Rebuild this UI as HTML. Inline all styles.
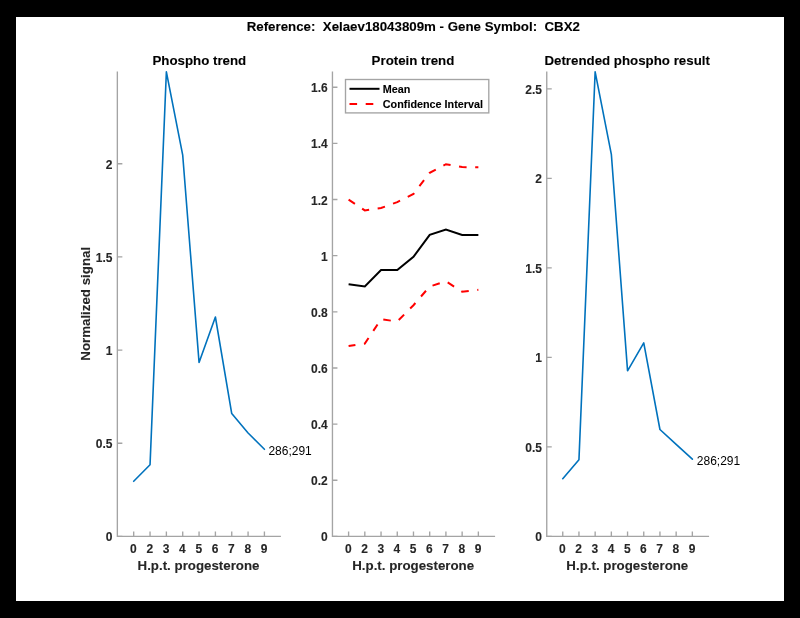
<!DOCTYPE html><html><head><meta charset="utf-8"><style>html,body{margin:0;padding:0;background:#000;overflow:hidden}svg{display:block;will-change:transform;filter:blur(0.3px)}</style></head><body>
<svg width="800" height="618" viewBox="0 0 800 618">
<rect x="0" y="0" width="800" height="618" fill="#000"/>
<rect x="16" y="17" width="768" height="584" fill="#fff"/>
<g font-family='"Liberation Sans", sans-serif'>
<text transform="translate(413.30,31.00) scale(1,1.000)" font-size="13.3" font-weight="bold" fill="#000" stroke="#000" stroke-width="0.1" text-anchor="middle" xml:space="preserve">Reference:  Xelaev18043809m - Gene Symbol:  CBX2</text>
<path d="M117.35 71.50 V536.40 H280.90" fill="none" stroke="#a4a4a4" stroke-width="1.35"/>
<path d="M133.70 536.40 v-5M150.04 536.40 v-5M166.38 536.40 v-5M182.72 536.40 v-5M199.06 536.40 v-5M215.40 536.40 v-5M231.74 536.40 v-5M248.08 536.40 v-5M264.42 536.40 v-5" stroke="#a4a4a4" stroke-width="1.35" fill="none"/>
<path d="M117.35 536.40 h5M117.35 443.24 h5M117.35 350.08 h5M117.35 256.92 h5M117.35 163.76 h5" stroke="#a4a4a4" stroke-width="1.35" fill="none"/>
<text transform="translate(112.55,541.40) scale(1,1.000)" font-size="12" font-weight="bold" fill="#262626" stroke="#262626" stroke-width="0.1" text-anchor="end" xml:space="preserve">0</text>
<text transform="translate(112.55,448.24) scale(1,1.000)" font-size="12" font-weight="bold" fill="#262626" stroke="#262626" stroke-width="0.1" text-anchor="end" xml:space="preserve">0.5</text>
<text transform="translate(112.55,355.08) scale(1,1.000)" font-size="12" font-weight="bold" fill="#262626" stroke="#262626" stroke-width="0.1" text-anchor="end" xml:space="preserve">1</text>
<text transform="translate(112.55,261.92) scale(1,1.000)" font-size="12" font-weight="bold" fill="#262626" stroke="#262626" stroke-width="0.1" text-anchor="end" xml:space="preserve">1.5</text>
<text transform="translate(112.55,168.76) scale(1,1.000)" font-size="12" font-weight="bold" fill="#262626" stroke="#262626" stroke-width="0.1" text-anchor="end" xml:space="preserve">2</text>
<text transform="translate(133.40,553.10) scale(1,1.000)" font-size="12" font-weight="bold" fill="#262626" stroke="#262626" stroke-width="0.1" text-anchor="middle" xml:space="preserve">0</text>
<text transform="translate(149.74,553.10) scale(1,1.000)" font-size="12" font-weight="bold" fill="#262626" stroke="#262626" stroke-width="0.1" text-anchor="middle" xml:space="preserve">2</text>
<text transform="translate(166.08,553.10) scale(1,1.000)" font-size="12" font-weight="bold" fill="#262626" stroke="#262626" stroke-width="0.1" text-anchor="middle" xml:space="preserve">3</text>
<text transform="translate(182.42,553.10) scale(1,1.000)" font-size="12" font-weight="bold" fill="#262626" stroke="#262626" stroke-width="0.1" text-anchor="middle" xml:space="preserve">4</text>
<text transform="translate(198.76,553.10) scale(1,1.000)" font-size="12" font-weight="bold" fill="#262626" stroke="#262626" stroke-width="0.1" text-anchor="middle" xml:space="preserve">5</text>
<text transform="translate(215.10,553.10) scale(1,1.000)" font-size="12" font-weight="bold" fill="#262626" stroke="#262626" stroke-width="0.1" text-anchor="middle" xml:space="preserve">6</text>
<text transform="translate(231.44,553.10) scale(1,1.000)" font-size="12" font-weight="bold" fill="#262626" stroke="#262626" stroke-width="0.1" text-anchor="middle" xml:space="preserve">7</text>
<text transform="translate(247.78,553.10) scale(1,1.000)" font-size="12" font-weight="bold" fill="#262626" stroke="#262626" stroke-width="0.1" text-anchor="middle" xml:space="preserve">8</text>
<text transform="translate(264.12,553.10) scale(1,1.000)" font-size="12" font-weight="bold" fill="#262626" stroke="#262626" stroke-width="0.1" text-anchor="middle" xml:space="preserve">9</text>
<text transform="translate(198.53,570.10) scale(1,1.000)" font-size="13.3" font-weight="bold" fill="#262626" stroke="#262626" stroke-width="0.1" text-anchor="middle" xml:space="preserve">H.p.t. progesterone</text>
<text transform="translate(199.32,65.30) scale(1,1.000)" font-size="13.3" font-weight="bold" fill="#000" stroke="#000" stroke-width="0.1" text-anchor="middle" xml:space="preserve">Phospho trend</text>
<path d="M332.45 71.50 V536.40 H495.10" fill="none" stroke="#a4a4a4" stroke-width="1.35"/>
<path d="M348.60 536.40 v-5M364.82 536.40 v-5M381.04 536.40 v-5M397.26 536.40 v-5M413.48 536.40 v-5M429.70 536.40 v-5M445.92 536.40 v-5M462.14 536.40 v-5M478.36 536.40 v-5" stroke="#a4a4a4" stroke-width="1.35" fill="none"/>
<path d="M332.45 536.40 h5M332.45 480.25 h5M332.45 424.11 h5M332.45 367.96 h5M332.45 311.81 h5M332.45 255.66 h5M332.45 199.52 h5M332.45 143.37 h5M332.45 87.22 h5" stroke="#a4a4a4" stroke-width="1.35" fill="none"/>
<text transform="translate(327.65,541.40) scale(1,1.000)" font-size="12" font-weight="bold" fill="#262626" stroke="#262626" stroke-width="0.1" text-anchor="end" xml:space="preserve">0</text>
<text transform="translate(327.65,485.25) scale(1,1.000)" font-size="12" font-weight="bold" fill="#262626" stroke="#262626" stroke-width="0.1" text-anchor="end" xml:space="preserve">0.2</text>
<text transform="translate(327.65,429.11) scale(1,1.000)" font-size="12" font-weight="bold" fill="#262626" stroke="#262626" stroke-width="0.1" text-anchor="end" xml:space="preserve">0.4</text>
<text transform="translate(327.65,372.96) scale(1,1.000)" font-size="12" font-weight="bold" fill="#262626" stroke="#262626" stroke-width="0.1" text-anchor="end" xml:space="preserve">0.6</text>
<text transform="translate(327.65,316.81) scale(1,1.000)" font-size="12" font-weight="bold" fill="#262626" stroke="#262626" stroke-width="0.1" text-anchor="end" xml:space="preserve">0.8</text>
<text transform="translate(327.65,260.66) scale(1,1.000)" font-size="12" font-weight="bold" fill="#262626" stroke="#262626" stroke-width="0.1" text-anchor="end" xml:space="preserve">1</text>
<text transform="translate(327.65,204.52) scale(1,1.000)" font-size="12" font-weight="bold" fill="#262626" stroke="#262626" stroke-width="0.1" text-anchor="end" xml:space="preserve">1.2</text>
<text transform="translate(327.65,148.37) scale(1,1.000)" font-size="12" font-weight="bold" fill="#262626" stroke="#262626" stroke-width="0.1" text-anchor="end" xml:space="preserve">1.4</text>
<text transform="translate(327.65,92.22) scale(1,1.000)" font-size="12" font-weight="bold" fill="#262626" stroke="#262626" stroke-width="0.1" text-anchor="end" xml:space="preserve">1.6</text>
<text transform="translate(348.30,553.10) scale(1,1.000)" font-size="12" font-weight="bold" fill="#262626" stroke="#262626" stroke-width="0.1" text-anchor="middle" xml:space="preserve">0</text>
<text transform="translate(364.52,553.10) scale(1,1.000)" font-size="12" font-weight="bold" fill="#262626" stroke="#262626" stroke-width="0.1" text-anchor="middle" xml:space="preserve">2</text>
<text transform="translate(380.74,553.10) scale(1,1.000)" font-size="12" font-weight="bold" fill="#262626" stroke="#262626" stroke-width="0.1" text-anchor="middle" xml:space="preserve">3</text>
<text transform="translate(396.96,553.10) scale(1,1.000)" font-size="12" font-weight="bold" fill="#262626" stroke="#262626" stroke-width="0.1" text-anchor="middle" xml:space="preserve">4</text>
<text transform="translate(413.18,553.10) scale(1,1.000)" font-size="12" font-weight="bold" fill="#262626" stroke="#262626" stroke-width="0.1" text-anchor="middle" xml:space="preserve">5</text>
<text transform="translate(429.40,553.10) scale(1,1.000)" font-size="12" font-weight="bold" fill="#262626" stroke="#262626" stroke-width="0.1" text-anchor="middle" xml:space="preserve">6</text>
<text transform="translate(445.62,553.10) scale(1,1.000)" font-size="12" font-weight="bold" fill="#262626" stroke="#262626" stroke-width="0.1" text-anchor="middle" xml:space="preserve">7</text>
<text transform="translate(461.84,553.10) scale(1,1.000)" font-size="12" font-weight="bold" fill="#262626" stroke="#262626" stroke-width="0.1" text-anchor="middle" xml:space="preserve">8</text>
<text transform="translate(478.06,553.10) scale(1,1.000)" font-size="12" font-weight="bold" fill="#262626" stroke="#262626" stroke-width="0.1" text-anchor="middle" xml:space="preserve">9</text>
<text transform="translate(413.17,570.10) scale(1,1.000)" font-size="13.3" font-weight="bold" fill="#262626" stroke="#262626" stroke-width="0.1" text-anchor="middle" xml:space="preserve">H.p.t. progesterone</text>
<text transform="translate(412.97,65.30) scale(1,1.000)" font-size="13.3" font-weight="bold" fill="#000" stroke="#000" stroke-width="0.1" text-anchor="middle" xml:space="preserve">Protein trend</text>
<path d="M546.75 71.50 V536.40 H709.10" fill="none" stroke="#a4a4a4" stroke-width="1.35"/>
<path d="M562.75 536.40 v-5M578.95 536.40 v-5M595.15 536.40 v-5M611.35 536.40 v-5M627.55 536.40 v-5M643.75 536.40 v-5M659.95 536.40 v-5M676.15 536.40 v-5M692.35 536.40 v-5" stroke="#a4a4a4" stroke-width="1.35" fill="none"/>
<path d="M546.75 536.40 h5M546.75 446.89 h5M546.75 357.39 h5M546.75 267.88 h5M546.75 178.37 h5M546.75 88.86 h5" stroke="#a4a4a4" stroke-width="1.35" fill="none"/>
<text transform="translate(541.95,541.40) scale(1,1.000)" font-size="12" font-weight="bold" fill="#262626" stroke="#262626" stroke-width="0.1" text-anchor="end" xml:space="preserve">0</text>
<text transform="translate(541.95,451.89) scale(1,1.000)" font-size="12" font-weight="bold" fill="#262626" stroke="#262626" stroke-width="0.1" text-anchor="end" xml:space="preserve">0.5</text>
<text transform="translate(541.95,362.39) scale(1,1.000)" font-size="12" font-weight="bold" fill="#262626" stroke="#262626" stroke-width="0.1" text-anchor="end" xml:space="preserve">1</text>
<text transform="translate(541.95,272.88) scale(1,1.000)" font-size="12" font-weight="bold" fill="#262626" stroke="#262626" stroke-width="0.1" text-anchor="end" xml:space="preserve">1.5</text>
<text transform="translate(541.95,183.37) scale(1,1.000)" font-size="12" font-weight="bold" fill="#262626" stroke="#262626" stroke-width="0.1" text-anchor="end" xml:space="preserve">2</text>
<text transform="translate(541.95,93.86) scale(1,1.000)" font-size="12" font-weight="bold" fill="#262626" stroke="#262626" stroke-width="0.1" text-anchor="end" xml:space="preserve">2.5</text>
<text transform="translate(562.45,553.10) scale(1,1.000)" font-size="12" font-weight="bold" fill="#262626" stroke="#262626" stroke-width="0.1" text-anchor="middle" xml:space="preserve">0</text>
<text transform="translate(578.65,553.10) scale(1,1.000)" font-size="12" font-weight="bold" fill="#262626" stroke="#262626" stroke-width="0.1" text-anchor="middle" xml:space="preserve">2</text>
<text transform="translate(594.85,553.10) scale(1,1.000)" font-size="12" font-weight="bold" fill="#262626" stroke="#262626" stroke-width="0.1" text-anchor="middle" xml:space="preserve">3</text>
<text transform="translate(611.05,553.10) scale(1,1.000)" font-size="12" font-weight="bold" fill="#262626" stroke="#262626" stroke-width="0.1" text-anchor="middle" xml:space="preserve">4</text>
<text transform="translate(627.25,553.10) scale(1,1.000)" font-size="12" font-weight="bold" fill="#262626" stroke="#262626" stroke-width="0.1" text-anchor="middle" xml:space="preserve">5</text>
<text transform="translate(643.45,553.10) scale(1,1.000)" font-size="12" font-weight="bold" fill="#262626" stroke="#262626" stroke-width="0.1" text-anchor="middle" xml:space="preserve">6</text>
<text transform="translate(659.65,553.10) scale(1,1.000)" font-size="12" font-weight="bold" fill="#262626" stroke="#262626" stroke-width="0.1" text-anchor="middle" xml:space="preserve">7</text>
<text transform="translate(675.85,553.10) scale(1,1.000)" font-size="12" font-weight="bold" fill="#262626" stroke="#262626" stroke-width="0.1" text-anchor="middle" xml:space="preserve">8</text>
<text transform="translate(692.05,553.10) scale(1,1.000)" font-size="12" font-weight="bold" fill="#262626" stroke="#262626" stroke-width="0.1" text-anchor="middle" xml:space="preserve">9</text>
<text transform="translate(627.32,570.10) scale(1,1.000)" font-size="13.3" font-weight="bold" fill="#262626" stroke="#262626" stroke-width="0.1" text-anchor="middle" xml:space="preserve">H.p.t. progesterone</text>
<text transform="translate(627.12,65.30) scale(1,1.000)" font-size="13.3" font-weight="bold" fill="#000" stroke="#000" stroke-width="0.1" text-anchor="middle" xml:space="preserve">Detrended phospho result</text>
<text transform="translate(90.1,303.8) rotate(-90) scale(1,1.000)" x="0" y="0" text-anchor="middle" font-size="13.3" font-weight="bold" fill="#262626" stroke="#262626" stroke-width="0.1">Normalized signal</text>
<polyline points="133.70,481.30 150.04,464.70 166.38,71.80 182.72,155.20 199.06,362.50 215.40,317.00 231.74,413.60 248.08,433.00 264.42,449.30" fill="none" stroke="#0072BD" stroke-width="1.6" stroke-linejoin="round" stroke-linecap="round"/>
<polyline points="562.75,478.70 578.95,459.80 595.15,71.80 611.35,154.30 627.55,370.80 643.75,342.90 659.95,429.50 676.15,444.40 692.35,459.20" fill="none" stroke="#0072BD" stroke-width="1.6" stroke-linejoin="round" stroke-linecap="round"/>
<text transform="translate(268.40,455.20) scale(1,1.000)" font-size="12" fill="#000" text-anchor="start" xml:space="preserve">286;291</text>
<text transform="translate(696.80,465.10) scale(1,1.000)" font-size="12" fill="#000" text-anchor="start" xml:space="preserve">286;291</text>
<polyline points="348.60,284.30 364.82,286.40 381.04,270.10 397.26,270.10 413.48,256.80 429.70,234.80 445.92,229.50 462.14,235.00 478.36,235.00" fill="none" stroke="#000" stroke-width="2"/>
<polyline points="348.60,199.70 364.82,210.40 381.04,208.00 397.26,202.10 413.48,194.00 429.70,172.80 445.92,164.20 462.14,167.10 478.36,167.20" fill="none" stroke="#f00" stroke-width="2" stroke-dasharray="7.6 8.6"/>
<polyline points="348.60,346.10 364.82,343.60 381.04,319.30 397.26,321.50 413.48,305.20 429.70,286.50 445.92,281.30 462.14,291.70 478.36,289.80" fill="none" stroke="#f00" stroke-width="2" stroke-dasharray="7.6 8.6" stroke-dashoffset="0.7"/>
<rect x="345.5" y="79.5" width="143.3" height="33.4" fill="#fff" stroke="#a4a4a4" stroke-width="1.35"/>
<path d="M349.5 88.8 H379.5" stroke="#000" stroke-width="2"/>
<path d="M349.5 103.9 H379.5" stroke="#f00" stroke-width="2" stroke-dasharray="7.6 8.6"/>
<text transform="translate(382.80,93.20) scale(1,1.000)" font-size="10.8" font-weight="bold" fill="#000" stroke="#000" stroke-width="0.1" text-anchor="start" xml:space="preserve">Mean</text>
<text transform="translate(382.80,107.90) scale(1,1.000)" font-size="10.8" font-weight="bold" fill="#000" stroke="#000" stroke-width="0.1" text-anchor="start" xml:space="preserve">Confidence Interval</text>
</g></svg></body></html>
